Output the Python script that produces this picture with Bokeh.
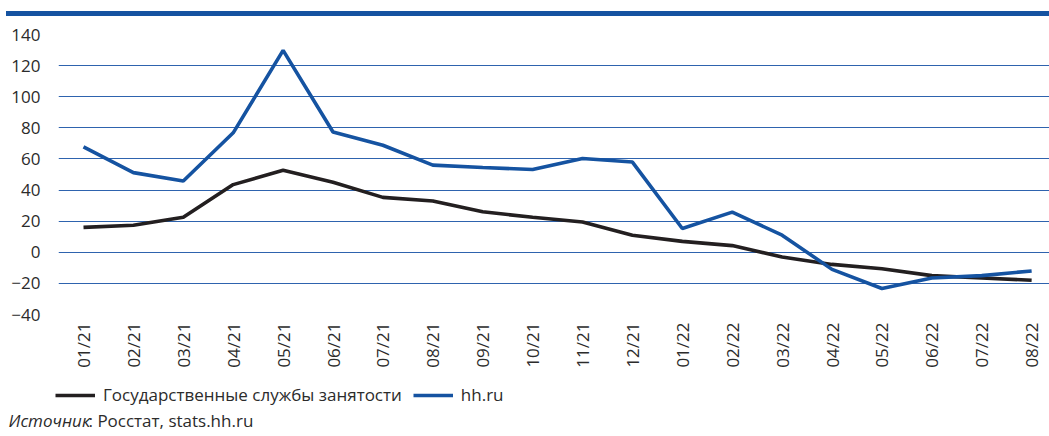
import math
from bokeh.plotting import figure
from bokeh.models import (Range1d, FixedTicker, Legend, LegendItem, Label, Div, Column)
from bokeh.embed import file_html
from bokeh.resources import INLINE

months = ["01/21", "02/21", "03/21", "04/21", "05/21", "06/21", "07/21", "08/21", "09/21", "10/21",
          "11/21", "12/21", "01/22", "02/22", "03/22", "04/22", "05/22", "06/22", "07/22", "08/22"]
gov_service = [16, 17.4, 22.5, 43.5, 52.7, 45, 35.3, 33, 26, 22.5,
               19.5, 11, 7, 4.3, -3, -7.8, -10.6, -15, -16.5, -18]
hh_ru = [67.7, 51.2, 45.8, 76.8, 129.8, 77.3, 68.8, 56, 54.5, 53.2,
         60.3, 58, 15.3, 25.8, 11, -11, -23.3, -16.5, -15, -12]
y_ticks = [-40, -20, 0, 20, 40, 60, 80, 100, 120, 140]
series_names = ["Государственные службы занятости", "hh.ru"]
source_italic = "Источник"
source_rest = ": Росстат, stats.hh.ru"

FONT = "Open Sans"
FS = "17px"
BLUE = "#1553a1"
BLACK = "#231f20"
TXT = "#2b2b2b"

x = list(range(len(months)))

# --- main chart ---
p = figure(width=1049, height=358, output_backend="svg", toolbar_location=None,
           x_range=Range1d(-0.501, 19.358), y_range=Range1d(-40, 140),
           min_border_left=58, min_border_right=0, min_border_top=18, min_border_bottom=60)
p.margin = (0, 0, 0, 0)
p.frame_align = False
p.outline_line_color = None
p.background_fill_color = "white"
p.border_fill_color = "white"

r1 = p.line(x, gov_service, line_color=BLACK, line_width=3.6)
r2 = p.line(x, hh_ru, line_color=BLUE, line_width=3.6)

p.xgrid.grid_line_color = None
p.ygrid.grid_line_color = "#2e63ae"
p.ygrid.grid_line_width = 1
p.ygrid.ticker = FixedTicker(ticks=y_ticks)

ya = p.yaxis[0]
ya.ticker = FixedTicker(ticks=y_ticks)
ya.axis_line_color = None
ya.major_tick_line_color = None
ya.minor_tick_line_color = None
ya.major_tick_out = 0
ya.minor_tick_out = 0
ya.major_label_text_font = FONT
ya.major_label_text_font_size = FS
ya.major_label_text_color = TXT
ya.major_label_standoff = 18

xa = p.xaxis[0]
xa.ticker = FixedTicker(ticks=x)
xa.major_label_overrides = {i: m for i, m in enumerate(months)}
xa.axis_line_color = None
xa.major_tick_line_color = None
xa.minor_tick_line_color = None
xa.major_tick_out = 0
xa.minor_tick_out = 0
xa.major_label_orientation = math.pi / 2
xa.major_label_text_font = FONT
xa.major_label_text_font_size = FS
xa.major_label_text_color = TXT
xa.major_label_standoff = 8

# --- legend + source strip ---
q = figure(width=1049, height=62, output_backend="svg", toolbar_location=None,
           x_range=Range1d(0, 1049), y_range=Range1d(0, 62),
           x_axis_type=None, y_axis_type=None,
           min_border_left=0, min_border_right=0, min_border_top=0, min_border_bottom=0)
q.margin = (0, 0, 0, 0)
q.frame_align = False
q.outline_line_color = None
q.xgrid.grid_line_color = None
q.ygrid.grid_line_color = None

nan = float("nan")
k1 = q.line([nan], [nan], line_color=BLACK, line_width=3.6)
k2 = q.line([nan], [nan], line_color=BLUE, line_width=3.6)

legend = Legend(items=[LegendItem(label=series_names[0], renderers=[k1]),
                       LegendItem(label=series_names[1], renderers=[k2])],
                orientation="horizontal", location=(55, 30),
                label_text_font=FONT, label_text_font_size=FS, label_text_color=TXT,
                glyph_width=40, glyph_height=18, label_standoff=8, spacing=11,
                padding=0, margin=0, border_line_color=None, background_fill_alpha=0)
q.add_layout(legend)

q.add_layout(Label(x=8, y=16, x_units="screen", y_units="screen", text=source_italic,
                   text_font=FONT, text_font_style="italic", text_font_size=FS,
                   text_color=TXT, text_baseline="middle"))
q.add_layout(Label(x=88, y=16, x_units="screen", y_units="screen", text=source_rest,
                   text_font=FONT, text_font_size=FS,
                   text_color=TXT, text_baseline="middle"))

bar = Div(width=1043, height=5, margin=(11, 0, 0, 6), styles={"background-color": BLUE})
layout = Column(children=[bar, p, q], spacing=0, margin=(0, 0, 0, 0))

open("out.html", "w").write(file_html(layout, INLINE))
